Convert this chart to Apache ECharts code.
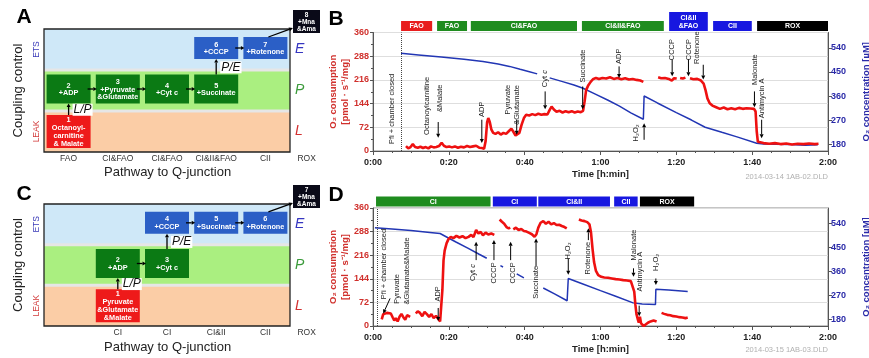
<!DOCTYPE html>
<html>
<head>
<meta charset="utf-8">
<script src="https://cdn.jsdelivr.net/npm/echarts@6/dist/echarts.min.js"></script>
<style>
  html, body { margin: 0; padding: 0; background: #fff; }
  #chart { width: 869px; height: 358px; }
</style>
</head>
<body>
<div id="chart"></div>
<script>
// ---------- schematic A / C ----------
var levelNames = ['LEAK', 'OXPHOS', 'ETS'];
var stateLetters = ['L', 'P', 'E'];

var schemeACats = ['FAO', 'CI&FAO', 'CI&FAO', 'CI&II&FAO', 'CII', 'ROX'];
var schemeABoxCol = [0, 0, 1, 2, 3, 3, 4, 5];
var schemeABoxLvl = [0, 1, 1, 1, 1, 2, 2, 3];
var schemeABoxText = ['1\nOctanoyl-\ncarnitine\n& Malate', '2\n+ADP', '3\n+Pyruvate\n&Glutamate', '4\n+Cyt c',
  '5\n+Succinate', '6\n+CCCP', '7\n+Rotenone', '8\n+Mna\n&Ama'];
var schemeALinks = [[0, 1, 'L/P'], [1, 2], [2, 3], [3, 4], [4, 5, 'P/E'], [5, 6], [6, 7]];

var schemeCCats = ['', 'CI', 'CI', 'CI&II', 'CII', 'ROX'];
var schemeCBoxCol = [1, 1, 2, 2, 3, 4, 5];
var schemeCBoxLvl = [0, 1, 1, 2, 2, 2, 3];
var schemeCBoxText = ['1\nPyruvate\n&Glutamate\n&Malate', '2\n+ADP', '3\n+Cyt c', '4\n+CCCP',
  '5\n+Succinate', '6\n+Rotenone', '7\n+Mna\n&Ama'];
var schemeCLinks = [[0, 1, 'L/P'], [1, 2], [2, 3, 'P/E'], [3, 4], [4, 5], [5, 6]];

// ---------- trace B (2014-03-14) ----------
var phaseBStart = [7.4, 16.9, 25.8, 55.1, 78.1, 89.7, 101.3];
var phaseBEnd = [15.6, 24.8, 53.8, 76.7, 88.3, 99.9, 120];
var phaseBLabel = ['FAO', 'FAO', 'CI&FAO', 'CI&II&FAO', 'CI&II\n&FAO', 'CII', 'ROX'];
var phaseBState = ['L', 'P', 'P', 'P', 'E', 'E', 'R'];

var fluxB = [[8.7,15],[9.3,8],[9.9,12],[10.5,21],[11.1,12],[11.8,10],[12.5,13],[13.2,9],[13.9,12],[14.6,8],
  [15.3,14],[16,11],[16.7,12],[17.4,15],[18.1,25],[18.7,16],[19.4,12],[20.1,14],[20.8,11],[21.6,14],[22.4,10],
  [23.2,13],[24,11],[24.8,15],[25.6,12],[26.4,14],[27.2,16],[28,10],[28.7,9],[29.3,7],[29.7,30],[30.1,88],
  [30.4,100],[30.8,88],[31.2,66],[31.7,55],[32.3,52],[33,57],[33.7,50],[34.4,55],[35.1,52],[35.8,60],[36.5,68],
  [37.1,57],[37.6,47],[38.1,46],[38.6,55],[39.2,80],[39.8,100],[40.4,110],[41.2,108],[42,112],[42.8,109],
  [43.6,113],[44.4,110],[45.2,112],[46,111],[46.6,125],[47.1,135],[47.7,126],[48.4,119],[49.2,122],[50,117],
  [50.8,121],[51.6,118],[52.4,121],[53.2,117],[54,120],[54.8,118],[55.4,122],[55.8,150],[56.2,185],[56.8,200],
  [57.4,210],[58,218],[58.8,222],[59.6,219],[60.5,222],[61.5,220],[62.5,224],[63.5,219],[64.5,222],[65.5,218],
  [66.5,221],[67.5,217],[68.5,219],[69.5,216],[70.5,214],[71.3,210],[71.6,null],
  [75.2,224],[76,221],[77,222],[78,219],[78.8,214],[79.4,221],[80.1,220],[80.5,null],[81,222],[81.7,220],
  [82.4,223],[82.9,null],[83.6,221],[84.5,218],[85.5,219],[86.5,214],[87.2,205],[87.7,185],[88.2,160],
  [88.8,145],[89.5,138],[90.5,133],[91.5,128],[92.5,132],[93.5,127],[94.5,130],[95.5,127],[96.5,131],
  [97.5,128],[98.5,130],[99.5,129],[100.5,128],[100.9,120],[101.2,60],[101.5,28],[102,25],[103,24],[104.5,22],
  [106,24],[107.5,21],[109,23],[110.5,20],[112,22],[113.5,21],[115,23],[116.5,21],[117.5,22]];

var concB = [[7.4,520],[12,514],[18,506],[24,498],[29,489],[33,480],[36,471],[38.8,460],[41,452],[43.3,443],
  [43.6,null],[46.6,428],[50,414],[53,401],[55.4,389],[58.5,368],[62,344],[65,322],[68,297],[71.3,273],
  [71.5,360],[75,334],[80,298],[84,270],[87.6,243],[92,224],[96,207],[101.2,183],[103,180],[106,179],
  [110,178],[114,176],[117.3,177]];

var noteBText = ['Pfi + chamber closed', 'Octanoylcarnitine', '&Malate', 'ADP', 'Pyruvate', '&Glutamate',
  'Cyt {i|c}', 'Succinate', 'ADP', 'H₂O₂', 'CCCP', 'CCCP', 'Rotenone', 'Malonate', 'Antimycin A'];
var noteBPos = [[5.0,128],[14.2,137],[17.7,160],[28.7,127],[35.6,156],[37.9,140],[45.4,220],[55.3,258],
  [64.9,288],[69.4,55],[78.9,308],[83.2,308],[85.5,314],[100.6,247],[102.5,160]];
var arrowB = [[17.2,88,17.2,40],[28.7,95,28.7,24],[37.9,95,37.9,49],[45.4,181,45.4,127],[55.3,196,55.3,127],
  [64.9,257,64.9,222],[71.5,34,71.5,84],[78.9,278,78.9,227],[83.2,278,83.2,227],[87.1,262,87.1,217],
  [100.6,181,100.6,133],[102.5,95,102.5,39]];
var closedB = 7.4;

// ---------- trace D (2014-03-15) ----------
var phaseDStart = [0.8, 31.6, 43.6, 63.6, 70.4];
var phaseDEnd = [31.0, 43.2, 62.5, 69.8, 84.7];
var phaseDLabel = ['CI', 'CI', 'CI&II', 'CII', 'ROX'];
var phaseDState = ['P', 'E', 'E', 'E', 'R'];

var fluxD = [[2.3,20],[2.7,36],[3.2,33],[3.7,40],[4.2,35],[4.7,38],[5.2,26],[5.6,17],[6,24],[6.5,14],[7,28],
  [7.5,37],[8,27],[8.5,19],[9,33],[9.5,30],[9.8,28],[10.4,null],
  [11.3,38],[11.8,45],[12.4,40],[13,30],[13.6,43],[14.2,36],[14.8,28],[15.4,36],[16,24],[16.6,31],[17.2,22],
  [17.7,14],[18,20],[18.3,110],[18.6,200],[18.9,230],[19.4,252],[19.9,265],[20.5,272],[21.2,268],[22,275],
  [22.8,270],[23.6,274],[24.4,268],[25.2,272],[25.9,278],[26.5,271],[27.2,293],[27.8,282],[28.4,287],[29,277],
  [29.7,285],[30.4,279],[31.2,282],[32,278],[32.6,null],
  [33.4,325],[34,318],[34.6,312],[35.2,302],[35.8,298],[36.2,300],[36.6,null],
  [37,295],[37.7,300],[38.4,293],[39.1,296],[39.8,290],[40.5,288],[41.2,284],[41.9,280],[42.6,272],[43.1,280],
  [43.6,300],[44.2,315],[44.9,320],[45.6,312],[46.3,318],[47,310],[47.7,314],[48.4,308],[49.1,309],[49.8,305],
  [50.5,302],[51.1,298],[52,null],
  [54.3,325],[55,322],[55.8,320],[56.5,317],[57.1,310],[57.5,285],[57.9,235],[58.3,195],[58.8,168],[59.4,155],
  [60.2,150],[61,148],[62,147],[63,145],[64,143],[65,142],[66,140],[67,139],[68,137],[68.5,132],[68.9,105],
  [69.2,65],[69.5,35],[69.8,22],[70.1,10],[70.4,28],[70.7,8],[71,2],[71.4,0],[71.9,5],[72.5,10],[73.2,14],
  [74,17],[74.8,14],[75.4,null],
  [76.1,40],[76.8,37],[77.6,34],[78.4,33],[79.2,30],[80,29],[80.8,27],[81.6,26],[82.4,24],[83,26]];

var concD = [[0.5,524],[5,519],[10,513],[15,506],[17.7,502],[19.4,489],[22,469],[25,447],[28,424],[30,409],
  [30.3,null],[33.6,381],[34.3,376],[34.6,null],[37.9,350],[39.8,335],[40.1,null],[44.9,297],[48,274],
  [51.2,249],[51.5,333],[55,314],[60,287],[64,266],[68.6,241],[71,237],[74.5,235],[74.6,292],[78,289],[83,284]];

var noteDText = ['Pfi + chamber closed', 'Pyruvate', '&Glutamate&Malate', 'ADP', 'Cyt {i|c}', 'CCCP', 'CCCP',
  'Succinate', 'H₂O₂', 'Rotenone', 'Malonate', 'Antimycin A', 'H₂O₂'];
var noteDPos = [[2.8,189],[6.2,113],[8.9,168],[17.2,98],[26.4,163],[31.9,162],[37.0,162],[43.0,133],
  [51.5,229],[56.6,207],[68.7,247],[70.4,166],[74.6,194]];
var arrowD = [[4.5,84,2.7,38],[17.2,55,17.2,15],[27.2,201,27.2,257],[31.9,201,31.9,262],[36.3,201,36.3,257],
  [43.0,181,43.0,267],[51.5,206,51.5,156],[56.8,262,56.8,298],[68.7,176,68.7,150],[70.2,62,70.2,30],
  [74.6,145,74.6,125]];
var closedD = 1.1;

var concTicks = [180, 270, 360, 450, 540];

// ---------- styles ----------
var FONT = '"Liberation Sans", Arial, Helvetica, sans-serif';
var bandFill = ['#fbcda6', '#aaef80', '#cfe8f8'];
var boxFill = ['#ee1a1a', '#0b7a14', '#2b5fc6', '#0a0a18'];
var levelColor = { LEAK: '#d23a3a', OXPHOS: '#45a245', ETS: '#3a3ab8', L: '#d23030', P: '#3a9a3a', E: '#3535c0' };
var stateColor = { L: '#e81e1e', P: '#1f8c1f', E: '#1717e0', R: '#000000' };
var RED = '#d0302c', BLUE = '#2a2aa8';

function arrow(x1, y1, x2, y2, hl, hw, lw) {
  var dx = x2 - x1, dy = y2 - y1, len = Math.sqrt(dx * dx + dy * dy) || 1;
  var ux = dx / len, uy = dy / len, bx = x2 - ux * hl, by = y2 - uy * hl;
  return { type: 'group', children: [
    { type: 'line', shape: { x1: x1, y1: y1, x2: bx, y2: by }, style: { stroke: '#000', lineWidth: lw } },
    { type: 'polygon', shape: { points: [[x2, y2], [bx - uy * hw, by + ux * hw], [bx + uy * hw, by - ux * hw]] },
      style: { fill: '#000' } }
  ] };
}

function schemeBox(api, col, lvl) {
  var c = api.coord([col, Math.min(lvl, 2)]), sz = api.size([1, 1]);
  if (lvl === 3) {
    return { x: c[0] - sz[0] / 2 + 3, y: c[1] - sz[1] / 2 - 19, w: 27, h: 23 };
  }
  var h = [33, 29, 22][lvl], cy = c[1] + [0, -1.5, -1.5][lvl];
  return { x: c[0] - 22, y: cy - h / 2, w: 44, h: h };
}

function renderFrame(params, api) {
  var c = api.coord([0, 0]), sz = api.size([1, 1]);
  var x0 = c[0] - sz[0] / 2, w = sz[0] * 5, bottom = c[1] + sz[1] / 2, h = sz[1];
  var kids = [];
  for (var i = 0; i < 3; i++) {
    kids.push({ type: 'rect', shape: { x: x0, y: bottom - (i + 1) * h, width: w, height: h }, style: { fill: bandFill[i] } });
  }
  for (var j = 1; j < 3; j++) {
    kids.push({ type: 'rect', shape: { x: x0, y: bottom - j * h - 1.5, width: w, height: 3 }, style: { fill: '#e6e6e6' } });
  }
  kids.push({ type: 'rect', shape: { x: x0, y: bottom - 3 * h, width: w, height: 3 * h },
    style: { fill: 'none', stroke: '#222', lineWidth: 1.3 } });
  return { type: 'group', children: kids };
}

function boxRenderer(cols, lvls, texts) {
  return function (params, api) {
    var i = params.dataIndex, b = schemeBox(api, cols[i], lvls[i]);
    var small = lvls[i] === 3;
    return { type: 'group', children: [
      { type: 'rect', shape: { x: b.x, y: b.y, width: b.w, height: b.h }, style: { fill: boxFill[lvls[i]] } },
      { type: 'text', x: b.x + b.w / 2, y: b.y + b.h / 2 + 0.5,
        style: { text: texts[i], align: 'center', verticalAlign: 'middle', fill: '#fff', fontFamily: FONT,
          fontWeight: 'bold', fontSize: small ? 6.5 : 7.3, lineHeight: small ? 7 : 7.9 } }
    ] };
  };
}

function linkRenderer(cols, lvls, links) {
  return function (params, api) {
    var L = links[params.dataIndex];
    var a = schemeBox(api, cols[L[0]], lvls[L[0]]), b = schemeBox(api, cols[L[1]], lvls[L[1]]);
    var kids = [];
    if (lvls[L[0]] === lvls[L[1]]) {
      var y = a.y + a.h / 2;
      kids.push(arrow(a.x + a.w - 3, y, b.x + 1, y, 3.5, 2, 1.3));
    } else if (cols[L[0]] === cols[L[1]]) {
      var x = a.x + a.w / 2;
      kids.push(arrow(x, a.y, x, b.y + b.h, 3.5, 2, 1.3));
      kids.push({ type: 'text', x: x + 4, y: (a.y + b.y + b.h) / 2 + 0.5,
        style: { text: L[2], align: 'left', verticalAlign: 'middle', fill: '#111', fontFamily: FONT,
          fontStyle: 'italic', fontSize: 12, backgroundColor: '#fff', padding: [0, 1, 0, 1] } });
    } else {
      kids.push(arrow(a.x + a.w / 2 + 3, a.y, b.x, b.y + b.h - 5, 4, 2, 1.2));
    }
    return { type: 'group', children: kids };
  };
}

function phaseRenderer(labels, states) {
  return function (params, api) {
    var s = api.coord([api.value(0), 360]), e = api.coord([api.value(1), 360]);
    var txt = labels[params.dataIndex], h = txt.indexOf('\n') >= 0 ? 19 : 10;
    var y = s[1] - 1.5 - h;
    return { type: 'group', children: [
      { type: 'rect', shape: { x: s[0], y: y, width: e[0] - s[0], height: h }, style: { fill: stateColor[states[params.dataIndex]] } },
      { type: 'text', x: (s[0] + e[0]) / 2, y: y + h / 2 + 0.5,
        style: { text: txt, align: 'center', verticalAlign: 'middle', fill: '#fff', fontFamily: FONT,
          fontWeight: 'bold', fontSize: 7, lineHeight: 8.5 } }
    ] };
  };
}

function noteRenderer(labels) {
  return function (params, api) {
    var p = api.coord([api.value(0), api.value(1)]);
    return { type: 'text', x: p[0], y: p[1], rotation: Math.PI / 2,
      style: { text: labels[params.dataIndex], align: 'center', verticalAlign: 'middle', fill: '#222',
        fontFamily: FONT, fontSize: 7.5,
        rich: { i: { fontStyle: 'italic', fontFamily: FONT, fontSize: 7.5, fill: '#222' } } } };
  };
}

function renderArrow(params, api) {
  var a = api.coord([api.value(0), api.value(1)]), b = api.coord([api.value(2), api.value(3)]);
  return arrow(a[0], a[1], b[0], b[1], 4, 2, 1);
}

function fmtTime(v) {
  var h = Math.floor(v / 60), m = Math.round(v % 60);
  return h + ':' + (m < 10 ? '0' : '') + m;
}

// ---------- axes ----------
function schemeX(g, cats, gap) {
  return {
    type: 'category', gridIndex: g, data: cats,
    axisLine: { show: false }, axisTick: { show: false }, splitLine: { show: false },
    axisLabel: { interval: 0, margin: 2, fontSize: 8.5, color: '#333', fontFamily: FONT,
      formatter: function (v) { return v === 'ROX' ? '{r|ROX}' : v; },
      rich: { r: { fontSize: 8.5, color: '#333', fontFamily: FONT, padding: [0, 16, 0, 0] } } },
    name: 'Pathway to Q-junction', nameLocation: 'middle', nameGap: gap, nameMoveOverlap: false,
    nameTextStyle: { fontSize: 13, color: '#222', fontFamily: FONT, padding: [0, 48, 0, 0] }
  };
}
function schemeYLeft(g) {
  return {
    type: 'category', gridIndex: g, data: levelNames,
    axisLine: { show: false }, axisTick: { show: false }, splitLine: { show: false },
    axisLabel: { rotate: 90, margin: 3, fontSize: 8.5, fontFamily: FONT,
      color: function (v) { return levelColor[v]; } },
    name: 'Coupling control', nameLocation: 'middle', nameRotate: 90, nameGap: 19, nameMoveOverlap: false,
    nameTextStyle: { fontSize: 13, color: '#222', fontFamily: FONT }
  };
}
function schemeYRight(g) {
  return {
    type: 'category', gridIndex: g, data: stateLetters, position: 'right', offset: -49.2,
    axisLine: { show: false }, axisTick: { show: false }, splitLine: { show: false },
    axisLabel: { margin: 5, fontSize: 14, fontStyle: 'italic', fontFamily: FONT,
      color: function (v) { return levelColor[v]; } }
  };
}
function timeX(g) {
  return {
    type: 'value', gridIndex: g, min: 0, max: 120, interval: 20,
    axisLine: { lineStyle: { color: '#555' } },
    axisTick: { length: 4, lineStyle: { color: '#555' } },
    minorTick: { show: true, splitNumber: 4, length: 2, lineStyle: { color: '#555' } },
    splitLine: { show: false },
    axisLabel: { formatter: fmtTime, fontSize: 9, fontWeight: 'bold', color: '#222', margin: 7, fontFamily: FONT },
    name: 'Time [h:min]', nameLocation: 'middle', nameGap: 18, nameMoveOverlap: false,
    nameTextStyle: { fontSize: 9.5, fontWeight: 'bold', color: '#222', fontFamily: FONT }
  };
}
function fluxY(g) {
  return {
    type: 'value', gridIndex: g, min: 0, max: 360, interval: 72,
    axisLine: { show: true, lineStyle: { color: '#555' } },
    axisTick: { show: true, length: 3, lineStyle: { color: '#555' } },
    minorTick: { show: true, splitNumber: 2, length: 2, lineStyle: { color: '#555' } },
    splitLine: { lineStyle: { color: '#dedede' } },
    axisLabel: { fontSize: 9, fontWeight: 'bold', color: RED, margin: 4, fontFamily: FONT },
    name: 'O₂ consumption\n[pmol · s⁻¹/mg]', nameLocation: 'middle', nameRotate: 90, nameGap: 22,
    nameMoveOverlap: false,
    nameTextStyle: { fontSize: 9.5, fontWeight: 'bold', color: RED, lineHeight: 12, fontFamily: FONT }
  };
}
function concY(g) {
  return {
    type: 'value', gridIndex: g, position: 'right', min: 154, max: 598,
    axisLine: { show: true, lineStyle: { color: '#555' } },
    axisTick: { show: true, length: 4, customValues: concTicks, lineStyle: { color: '#555' } },
    splitLine: { show: false },
    axisLabel: { customValues: concTicks, fontSize: 9, fontWeight: 'bold', color: BLUE, margin: 3, fontFamily: FONT },
    name: 'O₂ concentration [µM]', nameLocation: 'middle', nameRotate: 90, nameGap: 33, nameMoveOverlap: false,
    nameTextStyle: { fontSize: 9.5, fontWeight: 'bold', color: BLUE, fontFamily: FONT }
  };
}

// ---------- series helpers ----------
function schemeSeries(xi, yi, cols, lvls, texts, links) {
  return [
    { type: 'custom', xAxisIndex: xi, yAxisIndex: yi, renderItem: renderFrame, data: [[0, 0]], clip: false, silent: true, z: 1 },
    { type: 'custom', xAxisIndex: xi, yAxisIndex: yi, renderItem: boxRenderer(cols, lvls, texts),
      data: cols.map(function (c, i) { return [c, Math.min(lvls[i], 2)]; }), clip: false, silent: true, z: 3 },
    { type: 'custom', xAxisIndex: xi, yAxisIndex: yi, renderItem: linkRenderer(cols, lvls, links),
      data: links.map(function () { return [0, 0]; }), clip: false, silent: true, z: 4 }
  ];
}
function traceSeries(xi, yF, yC, flux, conc, closedAt, pStart, pEnd, pLabel, pState, nText, nPos, arrows) {
  return [
    { type: 'custom', xAxisIndex: xi, yAxisIndex: yF, renderItem: phaseRenderer(pLabel, pState),
      data: pStart.map(function (s, i) { return [s, pEnd[i]]; }), clip: false, silent: true, z: 5 },
    { type: 'line', xAxisIndex: xi, yAxisIndex: yC, data: conc, showSymbol: false, symbol: 'none',
      lineStyle: { color: '#2236b4', width: 1.5 }, connectNulls: false, z: 3, silent: true },
    { type: 'line', xAxisIndex: xi, yAxisIndex: yF, data: flux, showSymbol: false, symbol: 'none',
      lineStyle: { color: '#ee1111', width: 2.6 }, connectNulls: false, z: 4, silent: true,
      markLine: { silent: true, symbol: ['none', 'none'], label: { show: false },
        lineStyle: { type: 'dotted', color: '#444', width: 1 }, data: [{ xAxis: closedAt }] } },
    { type: 'custom', xAxisIndex: xi, yAxisIndex: yF, renderItem: noteRenderer(nText), data: nPos, clip: false, silent: true, z: 6 },
    { type: 'custom', xAxisIndex: xi, yAxisIndex: yF, renderItem: renderArrow, data: arrows, clip: false, silent: true, z: 6 }
  ];
}

var chart = echarts.init(document.getElementById('chart'), null, { renderer: 'canvas' });

var option = {
  animation: false,
  backgroundColor: '#fff',
  textStyle: { fontFamily: FONT },
  grid: [
    { left: 44, top: 29, width: 295.2, height: 123, outerBoundsMode: 'none' },
    { left: 373, top: 32.5, width: 455, height: 118.5, show: true, borderColor: '#8a8a8a', borderWidth: 1, outerBoundsMode: 'none' },
    { left: 44, top: 204, width: 295.2, height: 122, outerBoundsMode: 'none' },
    { left: 373, top: 208, width: 455, height: 118, show: true, borderColor: '#8a8a8a', borderWidth: 1, outerBoundsMode: 'none' }
  ],
  xAxis: [schemeX(0, schemeACats, 14), timeX(1), schemeX(2, schemeCCats, 15), timeX(3)],
  yAxis: [schemeYLeft(0), schemeYRight(0), fluxY(1), concY(1), schemeYLeft(2), schemeYRight(2), fluxY(3), concY(3)],
  graphic: [
    { type: 'text', x: 24, y: 17, style: { text: 'A', align: 'center', verticalAlign: 'middle', fontSize: 21, fontWeight: 'bold', fontFamily: FONT, fill: '#000' } },
    { type: 'text', x: 336, y: 19, style: { text: 'B', align: 'center', verticalAlign: 'middle', fontSize: 21, fontWeight: 'bold', fontFamily: FONT, fill: '#000' } },
    { type: 'text', x: 24, y: 194, style: { text: 'C', align: 'center', verticalAlign: 'middle', fontSize: 21, fontWeight: 'bold', fontFamily: FONT, fill: '#000' } },
    { type: 'text', x: 336, y: 195, style: { text: 'D', align: 'center', verticalAlign: 'middle', fontSize: 21, fontWeight: 'bold', fontFamily: FONT, fill: '#000' } },
    { type: 'text', x: 828, y: 177, style: { text: '2014-03-14 1AB-02.DLD', align: 'right', verticalAlign: 'middle', fontSize: 7.5, fontFamily: FONT, fill: '#b0b0b0' } },
    { type: 'text', x: 828, y: 350, style: { text: '2014-03-15 1AB-03.DLD', align: 'right', verticalAlign: 'middle', fontSize: 7.5, fontFamily: FONT, fill: '#b0b0b0' } }
  ],
  series: [].concat(
    schemeSeries(0, 0, schemeABoxCol, schemeABoxLvl, schemeABoxText, schemeALinks),
    traceSeries(1, 2, 3, fluxB, concB, closedB, phaseBStart, phaseBEnd, phaseBLabel, phaseBState, noteBText, noteBPos, arrowB),
    schemeSeries(2, 4, schemeCBoxCol, schemeCBoxLvl, schemeCBoxText, schemeCLinks),
    traceSeries(3, 6, 7, fluxD, concD, closedD, phaseDStart, phaseDEnd, phaseDLabel, phaseDState, noteDText, noteDPos, arrowD)
  )
};

chart.setOption(option);
</script>
</body>
</html>
